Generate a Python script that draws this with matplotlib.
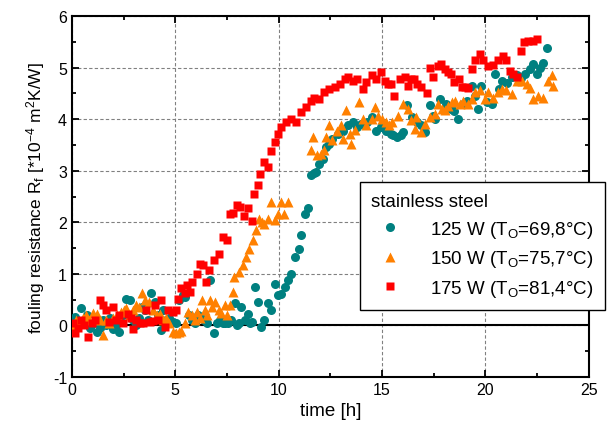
import matplotlib.pyplot as plt
from matplotlib.ticker import MultipleLocator

plt.rcParams['font.family'] = ['Liberation Sans', 'DejaVu Sans']
plt.rcParams['mathtext.fontset'] = 'custom'
plt.rcParams['mathtext.rm'] = 'Liberation Sans'
plt.rcParams['mathtext.it'] = 'Liberation Sans:italic'
plt.rcParams['axes.unicode_minus'] = False

# 125 W (teal circles)
t_125 = [0.05, 0.13, 0.3, 0.45, 0.6, 0.75, 0.9, 1.05, 1.2, 1.35, 1.5, 1.65, 1.83, 2.0, 2.15, 2.3,
         2.45, 2.64, 2.8, 2.95, 3.1, 3.25, 3.4, 3.55, 3.7, 3.85, 4.0, 4.15, 4.3, 4.4, 4.55, 4.7,
         4.9, 5.05, 5.2, 5.38, 5.48, 5.65, 5.8, 5.95, 6.1, 6.25, 6.4, 6.55, 6.7, 6.85, 7.0, 7.15,
         7.3, 7.4, 7.55, 7.7, 7.87, 7.97, 8.1, 8.2, 8.37, 8.5, 8.6, 8.7, 8.84, 9.0, 9.16, 9.3,
         9.5, 9.64, 9.8, 9.97, 10.1, 10.3, 10.45, 10.6, 10.8, 10.97, 11.1, 11.25, 11.4, 11.57,
         11.7, 11.8, 11.97, 12.13, 12.3, 12.45, 12.6, 12.87, 13.1, 13.35, 13.6, 13.8, 14.0,
         14.25, 14.5, 14.7, 14.96, 15.2, 15.45, 15.55, 15.7, 15.9, 16.0, 16.2, 16.43, 16.67,
         16.9, 17.06, 17.3, 17.45, 17.55, 17.8, 18.1, 18.35, 18.5, 18.68, 18.9, 19.1, 19.33,
         19.5, 19.66, 19.8, 20.06, 20.3, 20.47, 20.63, 20.8, 21.05, 21.27, 21.5, 21.7, 21.9,
         22.15, 22.3, 22.5, 22.65, 22.8, 22.95]
r_125 = [0.05, 0.17, 0.0, 0.33, 0.1, 0.2, -0.05, 0.05, -0.12, -0.05, 0.1, 0.0, 0.14, -0.06, 0.0, -0.12,
         0.2, 0.52, 0.49, 0.1, 0.0, 0.15, 0.35, 0.3, 0.1, 0.62, 0.46, 0.2, -0.08, 0.29, 0.1, 0.15,
         0.07, 0.05, 0.49, 0.59, 0.55, 0.2, 0.1, 0.05, 0.2, 0.15, 0.1, 0.05, 0.88, -0.15, 0.05, 0.1,
         0.05, 0.04, 0.05, 0.1, 0.43, 0.01, 0.05, 0.36, 0.1, 0.23, 0.05, 0.07, 0.75, 0.46, -0.03, 0.1,
         0.43, 0.3, 0.81, 0.59, 0.6, 0.75, 0.88, 1.0, 1.33, 1.49, 1.75, 2.17, 2.28, 2.91,
         2.95, 2.98, 3.14, 3.23, 3.46, 3.52, 3.62, 3.72, 3.78, 3.88, 3.94, 3.85, 3.91,
         3.95, 4.04, 3.78, 3.85, 3.78, 3.72, 3.7, 3.65, 3.69, 3.75, 4.27, 4.04, 3.94,
         3.88, 3.75, 4.27, 4.07, 4.0, 4.4, 4.3, 4.2, 4.15, 4.0, 4.3, 4.35, 4.65,
         4.45, 4.2, 4.65, 4.33, 4.3, 4.88, 4.59, 4.75, 4.7, 4.81, 4.85, 4.8, 4.88,
         4.97, 5.07, 4.88, 5.0, 5.1, 5.39]

# 150 W (orange triangles)
t_150 = [0.05, 0.2, 0.37, 0.55, 0.7, 0.85, 1.0, 1.2, 1.35, 1.5, 1.65, 1.8, 2.0, 2.2, 2.4, 2.5,
         2.64, 2.8, 2.95, 3.1, 3.25, 3.4, 3.55, 3.75, 3.9, 4.1, 4.24, 4.4, 4.55, 4.7, 4.9, 5.05,
         5.2, 5.3, 5.45, 5.6, 5.8, 5.95, 6.05, 6.2, 6.3, 6.45, 6.55, 6.7, 6.8, 6.93, 7.1, 7.2,
         7.4, 7.5, 7.63, 7.79, 7.86, 8.1, 8.26, 8.42, 8.58, 8.74, 8.9, 9.07, 9.2, 9.3, 9.47,
         9.63, 9.8, 9.96, 10.1, 10.28, 10.45, 11.55, 11.66, 11.83, 12.05, 12.2, 12.3, 12.45,
         12.6, 12.8, 13.0, 13.1, 13.27, 13.43, 13.5, 13.7, 13.9, 14.07, 14.23, 14.5, 14.65,
         14.8, 15.0, 15.2, 15.35, 15.5, 15.77, 16.0, 16.25, 16.4, 16.57, 16.65, 16.9, 17.07,
         17.3, 17.55, 17.7, 17.9, 18.05, 18.2, 18.37, 18.53, 18.75, 18.93, 19.17, 19.35, 19.5,
         19.74, 19.98, 20.14, 20.37, 20.6, 20.78, 21.0, 21.27, 21.5, 21.75, 22.0, 22.15, 22.3,
         22.55, 22.8, 23.04, 23.2, 23.28]
r_150 = [0.0, 0.1, 0.07, 0.15, 0.2, 0.1, 0.25, 0.23, 0.1, -0.19, 0.1, 0.05, 0.15, 0.2, 0.26, 0.3,
         0.33, 0.2, 0.3, 0.39, 0.35, 0.62, 0.5, 0.46, 0.3, 0.2, 0.23, 0.1, 0.15, 0.05, -0.12, -0.15,
         -0.12, -0.1, 0.05, 0.26, 0.2, 0.1, 0.26, 0.15, 0.49, 0.3, 0.2, 0.49, 0.35, 0.46, 0.3, 0.25,
         0.39, 0.2, 0.39, 0.65, 0.94, 1.04, 1.17, 1.33, 1.49, 1.65, 1.85, 2.07, 2.0, 1.97, 2.07,
         2.39, 2.04, 2.17, 2.39, 2.17, 2.39, 3.4, 3.65, 3.3, 3.33, 3.4, 3.65, 3.88,
         3.6, 3.78, 3.88, 3.62, 4.17, 3.72, 3.52, 3.8, 4.33, 4.0, 3.88, 4.0, 4.23,
         4.07, 4.0, 3.95, 3.88, 3.95, 4.07, 4.3, 4.2, 3.98, 3.81, 4.04, 3.75, 3.91,
         4.04, 4.1, 4.3, 4.2, 4.17, 4.25, 4.33, 4.36, 4.3, 4.36, 4.3, 4.4, 4.52,
         4.56, 4.4, 4.52, 4.42, 4.52, 4.59, 4.56, 4.49, 4.75, 4.75, 4.68, 4.6, 4.39,
         4.46, 4.42, 4.75, 4.85, 4.65]

# 175 W (red squares)
t_175 = [0.07, 0.13, 0.3, 0.45, 0.6, 0.8, 0.95, 1.1, 1.35, 1.5, 1.67, 1.8, 1.99, 2.15, 2.3, 2.47,
         2.7, 2.87, 2.95, 3.1, 3.3, 3.45, 3.6, 3.77, 3.9, 4.0, 4.15, 4.33, 4.5, 4.66, 4.9, 5.05,
         5.15, 5.3, 5.45, 5.55, 5.7, 5.8, 6.03, 6.2, 6.35, 6.5, 6.65, 6.85, 7.1, 7.33, 7.5, 7.66,
         7.8, 8.0, 8.15, 8.3, 8.5, 8.7, 8.8, 9.0, 9.1, 9.3, 9.5, 9.65, 9.8, 9.95, 10.1, 10.35,
         10.6, 10.85, 11.1, 11.3, 11.55, 11.7, 11.95, 12.2, 12.45, 12.7, 12.95, 13.2, 13.35,
         13.6, 13.8, 14.06, 14.2, 14.5, 14.7, 14.96, 15.15, 15.3, 15.45, 15.6, 15.85, 16.1,
         16.25, 16.4, 16.55, 16.7, 16.9, 17.15, 17.3, 17.45, 17.7, 17.85, 18.05, 18.2, 18.35,
         18.5, 18.7, 18.85, 19.0, 19.15, 19.33, 19.5, 19.73, 19.9, 20.13, 20.35, 20.6, 20.87,
         21.0, 21.2, 21.35, 21.5, 21.7, 21.85, 22.07, 22.3, 22.47]
r_175 = [0.04, -0.15, -0.05, 0.1, 0.0, -0.22, 0.05, 0.1, 0.49, 0.39, 0.29, 0.07, 0.36, 0.1, 0.2, 0.04,
         0.23, 0.14, -0.06, 0.1, 0.04, 0.05, 0.29, 0.07, 0.08, 0.39, 0.1, 0.49, -0.03, 0.29, 0.26, 0.3,
         0.52, 0.72, 0.62, 0.78, 0.65, 0.84, 1.0, 1.2, 1.18, 0.85, 1.07, 1.26, 1.39, 1.72, 1.65, 2.17,
         2.19, 2.34, 2.3, 2.13, 2.28, 2.02, 2.55, 2.73, 2.94, 3.17, 3.07, 3.39, 3.55, 3.71, 3.85, 3.94,
         4.0, 3.94, 4.14, 4.23, 4.36, 4.42, 4.4, 4.52, 4.58, 4.62, 4.68, 4.78, 4.81,
         4.75, 4.78, 4.59, 4.72, 4.85, 4.78, 4.91, 4.75, 4.68, 4.68, 4.46, 4.78, 4.81,
         4.65, 4.78, 4.78, 4.68, 4.62, 4.5, 5.0, 4.81, 5.04, 5.07, 4.97, 4.91, 4.88,
         4.72, 4.78, 4.62, 4.62, 4.6, 4.97, 5.14, 5.27, 5.14, 5.04, 5.05, 5.14, 5.23,
         5.14, 4.94, 4.88, 4.81, 5.33, 5.49, 5.52, 5.52, 5.55]

labels = ['125 W (T$_\\mathregular{O}$=69,8°C)',
          '150 W (T$_\\mathregular{O}$=75,7°C)',
          '175 W (T$_\\mathregular{O}$=81,4°C)']

fig = plt.figure(figsize=(6.09, 4.39), dpi=100)
ax = fig.add_axes([0.118, 0.139, 0.849, 0.822])

ax.axhline(0, color='black', lw=1.5, zorder=1)
ax.plot(t_125, r_125, 'o', color='#008080', ms=6.5, mec='none', label=labels[0], zorder=3)
ax.plot(t_150, r_150, '^', color='#FF8000', ms=7.5, mec='none', label=labels[1], zorder=4)
ax.plot(t_175, r_175, 's', color='#FF0000', ms=6, mec='none', label=labels[2], zorder=5)

ax.set_xlim(0, 25)
ax.set_ylim(-1, 6)
ax.xaxis.set_major_locator(MultipleLocator(5))
ax.xaxis.set_minor_locator(MultipleLocator(2.5))
ax.yaxis.set_major_locator(MultipleLocator(1))
ax.yaxis.set_minor_locator(MultipleLocator(0.5))
ax.tick_params(which='both', direction='in', top=True, right=True, width=1.3)
ax.tick_params(which='major', length=5, labelsize=11.5)
ax.tick_params(which='minor', length=3)
for s in ax.spines.values():
    s.set_linewidth(1.5)
ax.grid(True, which='major', color='#808080', linestyle=(0, (3, 2)), lw=0.8)
ax.set_axisbelow(True)

ax.set_xlabel('time [h]', fontsize=13.5)
ax.set_ylabel('fouling resistance R$_\\mathregular{f}$ [*10$^\\mathregular{-4}$ m$^\\mathregular{2}$K/W]',
              fontsize=12.5)

leg = ax.legend(title='stainless steel', loc='upper left', bbox_to_anchor=(0.557, 0.54),
                borderaxespad=0, fontsize=13.5, title_fontsize=13.5, fancybox=False,
                edgecolor='black', framealpha=1, borderpad=0.6, handletextpad=1.15,
                labelspacing=0.45, alignment='left')
leg.get_frame().set_linewidth(1.0)
leg.set_zorder(10)

fig.savefig('out.png', dpi=100)
